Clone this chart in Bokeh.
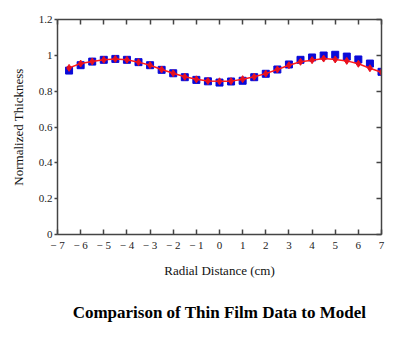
from bokeh.plotting import figure
from bokeh.models import Range1d, LinearAxis, FixedTicker, Title
from bokeh.embed import file_html
from bokeh.resources import INLINE

# Data
radius = [-6.5, -6.0, -5.5, -5.0, -4.5, -4.0, -3.5, -3.0, -2.5, -2.0, -1.5, -1.0,
          -0.5, 0.0, 0.5, 1.0, 1.5, 2.0, 2.5, 3.0, 3.5, 4.0, 4.5, 5.0, 5.5, 6.0, 6.5, 7.0]
measured = [0.915, 0.945, 0.965, 0.975, 0.980, 0.975, 0.962, 0.945, 0.919, 0.900, 0.878, 0.863,
            0.855, 0.848, 0.854, 0.858, 0.878, 0.897, 0.921, 0.949, 0.975, 0.988, 0.999, 1.003,
            0.993, 0.977, 0.954, 0.908]
model = [0.930, 0.954, 0.966, 0.975, 0.980, 0.975, 0.962, 0.945, 0.921, 0.900, 0.880, 0.866,
         0.857, 0.855, 0.856, 0.867, 0.880, 0.898, 0.921, 0.945, 0.964, 0.973, 0.982, 0.977,
         0.969, 0.953, 0.928, 0.906]
x_ticks = [-7, -6, -5, -4, -3, -2, -1, 0, 1, 2, 3, 4, 5, 6, 7]
x_tick_labels = ["\u2212 7", "\u2212 6", "\u2212 5", "\u2212 4", "\u2212 3", "\u2212 2", "\u2212 1",
                 "0", "1", "2", "3", "4", "5", "6", "7"]
y_ticks = [0, 0.2, 0.4, 0.6, 0.8, 1.0, 1.2]
y_tick_labels = ["0", "0.2", "0.4", "0.6", "0.8", "1", "1.2"]

FONT = "Liberation Serif"
AXC = "#444444"

p = figure(width=408, height=340, output_backend="svg", toolbar_location=None,
           x_range=Range1d(-7, 7), y_range=Range1d(0, 1.2),
           min_border_left=57, min_border_right=27, min_border_top=19, min_border_bottom=106,
           x_axis_label="Radial Distance (cm)", y_axis_label="Normalized Thickness")
p.outline_line_color = None
p.xgrid.visible = False
p.ygrid.visible = False
p.background_fill_color = "white"
p.border_fill_color = "white"

xa = p.xaxis[0]
xa.ticker = FixedTicker(ticks=x_ticks)
xa.major_label_overrides = {t: l for t, l in zip(x_ticks, x_tick_labels)}
ya = p.yaxis[0]
ya.ticker = FixedTicker(ticks=y_ticks)
ya.major_label_overrides = {t: l for t, l in zip(y_ticks, y_tick_labels)}

for ax in (xa, ya):
    ax.axis_line_color = AXC
    ax.axis_line_width = 1.5
    ax.major_tick_line_color = AXC
    ax.major_tick_line_width = 1.5
    ax.minor_tick_line_color = None
    ax.major_label_text_font = FONT
    ax.major_label_text_font_size = "11px"
    ax.major_label_text_color = "#222222"
    ax.axis_label_text_font = FONT
    ax.axis_label_text_font_size = "13px"
    ax.axis_label_text_font_style = "normal"
    ax.axis_label_text_color = "#111111"

xa.major_tick_in = 5
xa.major_tick_out = 0
xa.major_label_standoff = 4
xa.axis_label_standoff = 9
ya.major_tick_in = 0
ya.major_tick_out = 3
ya.major_label_standoff = 2
ya.axis_label_standoff = 10

right = LinearAxis(ticker=FixedTicker(ticks=y_ticks))
right.major_label_overrides = {t: "" for t in y_ticks}
top = LinearAxis(ticker=FixedTicker(ticks=x_ticks))
top.major_label_overrides = {t: "" for t in x_ticks}
for ax in (right, top):
    ax.axis_line_color = AXC
    ax.axis_line_width = 1.5
    ax.major_tick_line_color = AXC
    ax.major_tick_line_width = 1.5
    ax.major_tick_in = 5
    ax.major_tick_out = 0
    ax.minor_tick_line_color = None
    ax.major_label_standoff = 0
p.add_layout(right, "right")
p.add_layout(top, "above")

p.scatter(radius, measured, marker="square", size=7, color="#0a0ad8")
p.line(radius, model, line_color="#ff1a1a", line_width=1.5)
p.scatter(radius, model, marker="diamond", size=7, color="#e8101e")

cap = Title(text="Comparison of Thin Film Data to Model", align="center",
            text_font=FONT, text_font_size="17px", text_font_style="bold",
            text_color="black", offset=-4, padding=dict(top=15, bottom=0, left=0, right=0))
p.add_layout(cap, "below")

open("out.html", "w").write(file_html(p, INLINE))
